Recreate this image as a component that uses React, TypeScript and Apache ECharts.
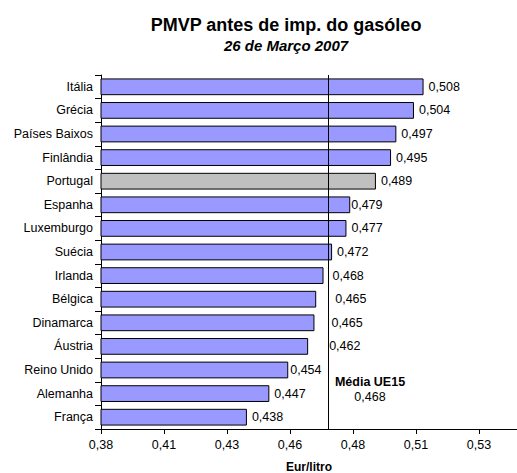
import React, { useEffect, useRef } from "react";
import * as echarts from "echarts";

const countries = [
  "Itália", "Grécia", "Países Baixos", "Finlândia", "Portugal", "Espanha", "Luxemburgo",
  "Suécia", "Irlanda", "Bélgica", "Dinamarca", "Áustria", "Reino Unido", "Alemanha", "França",
];
const prices = [
  0.508, 0.5042, 0.4972, 0.4951, 0.4891, 0.4789, 0.4774,
  0.4717, 0.4683, 0.4654, 0.4647, 0.4622, 0.4543, 0.4468, 0.4379,
];
const highlighted = "Portugal";
const euAverage = 0.4684;
const xTickMin = 0.38;
const xTickStep = 0.025;

const titleText = "PMVP antes de imp. do gasóleo";
const subtitleText = "26 de Março 2007";
const axisNameText = "Eur/litro";
const averageText = "Média UE15";

// extra label offsets (style only)
const labelShift: Record<string, number> = {
  Espanha: -4, Irlanda: 4, "Bélgica": 14, Dinamarca: 12, "Áustria": 16, "Reino Unido": -3,
};

const FONT = "'Liberation Sans', Arial, sans-serif";
const fmt3 = (v: number) => v.toFixed(3).replace(".", ",");
const fmt2 = (v: number) => (Math.round(v * 100 + 1e-9) / 100).toFixed(2).replace(".", ",");

export default function App() {
  const ref = useRef<HTMLDivElement>(null);
  useEffect(() => {
    if (!ref.current) return;
    const chart = echarts.init(ref.current, undefined, { renderer: "svg" });
    const data = countries.map((c, i) => ({
      value: prices[i],
      itemStyle: { color: c === highlighted ? "#C0C0C0" : "#9999FF" },
      label: { offset: [labelShift[c] || 0, 0] },
    }));
    chart.setOption({
      animation: false,
      backgroundColor: "#ffffff",
      textStyle: { fontFamily: FONT },
      grid: { left: 101, top: 75, bottom: 44, right: 18, containLabel: false },
      xAxis: {
        type: "value",
        min: xTickMin,
        max: xTickMin + 7 * xTickStep,
        interval: xTickStep,
        splitLine: { show: false },
        axisLine: { show: true, lineStyle: { color: "#000", width: 1 } },
        axisTick: { show: true, length: 5, lineStyle: { color: "#000" } },
        axisLabel: {
          color: "#000", fontSize: 12.5, margin: 9, fontFamily: FONT, showMaxLabel: false,
          formatter: (v: number) => fmt2(v),
        },
      },
      yAxis: {
        type: "category",
        data: countries,
        inverse: true,
        axisLine: { show: true, lineStyle: { color: "#000", width: 1 } },
        axisTick: { show: true, length: 6, alignWithLabel: false, lineStyle: { color: "#000" } },
        axisLabel: { color: "#000", fontSize: 12.5, margin: 8, fontFamily: FONT },
        splitLine: { show: false },
      },
      series: [
        {
          type: "bar",
          data,
          barWidth: "71%",
          itemStyle: { borderColor: "#000", borderWidth: 1 },
          label: {
            show: true,
            position: "right",
            distance: 5,
            color: "#000",
            fontSize: 12.5,
            fontFamily: FONT,
            formatter: (p: any) => fmt3(p.value),
          },
          markLine: {
            silent: true,
            symbol: "none",
            label: { show: false },
            lineStyle: { color: "#000", width: 1, type: "solid" },
            data: [{ xAxis: euAverage }],
          },
        },
      ],
      graphic: [
        {
          type: "text", x: 286, y: 25,
          style: { text: titleText, font: `bold 18px ${FONT}`, fill: "#000", textAlign: "center", textVerticalAlign: "middle" },
        },
        {
          type: "text", x: 286, y: 45,
          style: { text: subtitleText, font: `italic bold 15px ${FONT}`, fill: "#000", textAlign: "center", textVerticalAlign: "middle" },
        },
        {
          type: "text", x: 370, y: 382,
          style: { text: averageText, font: `bold 12.5px ${FONT}`, fill: "#000", textAlign: "center", textVerticalAlign: "middle" },
        },
        {
          type: "text", x: 370, y: 397,
          style: { text: fmt3(euAverage), font: `12.5px ${FONT}`, fill: "#000", textAlign: "center", textVerticalAlign: "middle" },
        },
        {
          type: "text", x: 309, y: 467,
          style: { text: axisNameText, font: `bold 12px ${FONT}`, fill: "#000", textAlign: "center", textVerticalAlign: "middle" },
        },
      ],
    });
    return () => chart.dispose();
  }, []);
  return (
    <div style={{ position: "fixed", left: 0, top: 0, width: 517, height: 473, overflow: "hidden", background: "#fff" }}>
      <div ref={ref} style={{ position: "absolute", left: 0, top: 0, width: 560, height: 473 }} />
    </div>
  );
}
